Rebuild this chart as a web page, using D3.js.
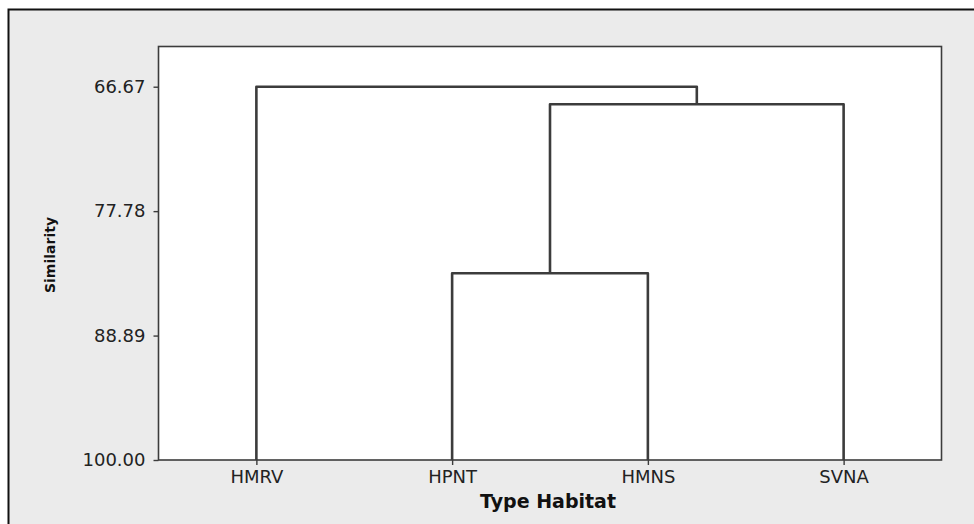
<!DOCTYPE html>
<html><head><meta charset="utf-8">
<script src="https://cdn.jsdelivr.net/npm/d3@7"></script>
<style>html,body{margin:0;padding:0;background:#fff;}svg{display:block;}</style>
</head><body>
<svg id="c" width="974" height="524"></svg>
<script>
const leaves = ["HMRV", "HPNT", "HMNS", "SVNA"];
// merges: [left node, right node, similarity level]; nodes referenced by leaf name or merge index "m0".."m2"
const merges = [
  ["HPNT", "HMNS", 83.33],
  ["m0", "SVNA", 68.24],
  ["HMRV", "m1", 66.67]
];
const yTicks = [66.67, 77.78, 88.89, 100.00];
const yDomain = [63.08, 100];
const xTitle = "Type Habitat";
const yTitle = "Similarity";

const svg = d3.select("#c");
const W = 974, H = 524;
const plot = {left: 158.5, top: 46.5, right: 941.5, bottom: 460};
const ink = "#3c3c3c";
const font = "Tahoma, 'DejaVu Sans', sans-serif";

// outer panel
svg.append("rect").attr("x", 8.5).attr("y", 9.5).attr("width", W + 20).attr("height", H + 20)
  .attr("fill", "#ebebeb").attr("stroke", "#111").attr("stroke-width", 2);
svg.append("rect").attr("x", plot.left).attr("y", plot.top)
  .attr("width", plot.right - plot.left).attr("height", plot.bottom - plot.top)
  .attr("fill", "#fff").attr("stroke", ink).attr("stroke-width", 1.6);

const x = d3.scalePoint().domain(leaves).range([plot.left, plot.right]).padding(0.5);
const y = d3.scaleLinear().domain(yDomain).range([plot.top, plot.bottom]);

// axes
const yAxis = svg.append("g").attr("transform", `translate(${plot.left},0)`)
  .call(d3.axisLeft(y).tickValues(yTicks).tickFormat(d3.format(".2f")).tickSize(5).tickPadding(8));
const xAxis = svg.append("g").attr("transform", `translate(0,${plot.bottom})`)
  .call(d3.axisBottom(x).tickSize(5).tickPadding(5));
[yAxis, xAxis].forEach(g => {
  g.select(".domain").remove();
  g.selectAll("line").attr("stroke", ink).attr("stroke-width", 1.4);
  g.selectAll("text").attr("fill", "#222").style("font-family", font)
    .style("font-size", "18px");
});

// dendrogram
const pos = {};
leaves.forEach(l => pos[l] = {x: x(l), h: 100});
const g = svg.append("g").attr("fill", "none").attr("stroke", ink).attr("stroke-width", 2.6)
  .attr("stroke-linejoin", "round");
merges.forEach((m, i) => {
  const a = pos[m[0]], b = pos[m[1]], h = m[2];
  g.append("path").attr("d",
    `M${a.x},${y(a.h)}V${y(h)}H${b.x}V${y(b.h)}`);
  pos["m" + i] = {x: (a.x + b.x) / 2, h: h};
});

// titles
svg.append("text").attr("x", (plot.left + plot.right) / 2 - 2).attr("y", 507.5)
  .attr("text-anchor", "middle").attr("fill", "#111")
  .style("font-family", font).style("font-weight", "bold").style("font-size", "19px")
  .text(xTitle);
svg.append("text").attr("transform", `translate(55,255) rotate(-90)`)
  .attr("text-anchor", "middle").attr("fill", "#111")
  .style("font-family", font).style("font-weight", "bold").style("font-size", "14px")
  .text(yTitle);
</script>
</body></html>
